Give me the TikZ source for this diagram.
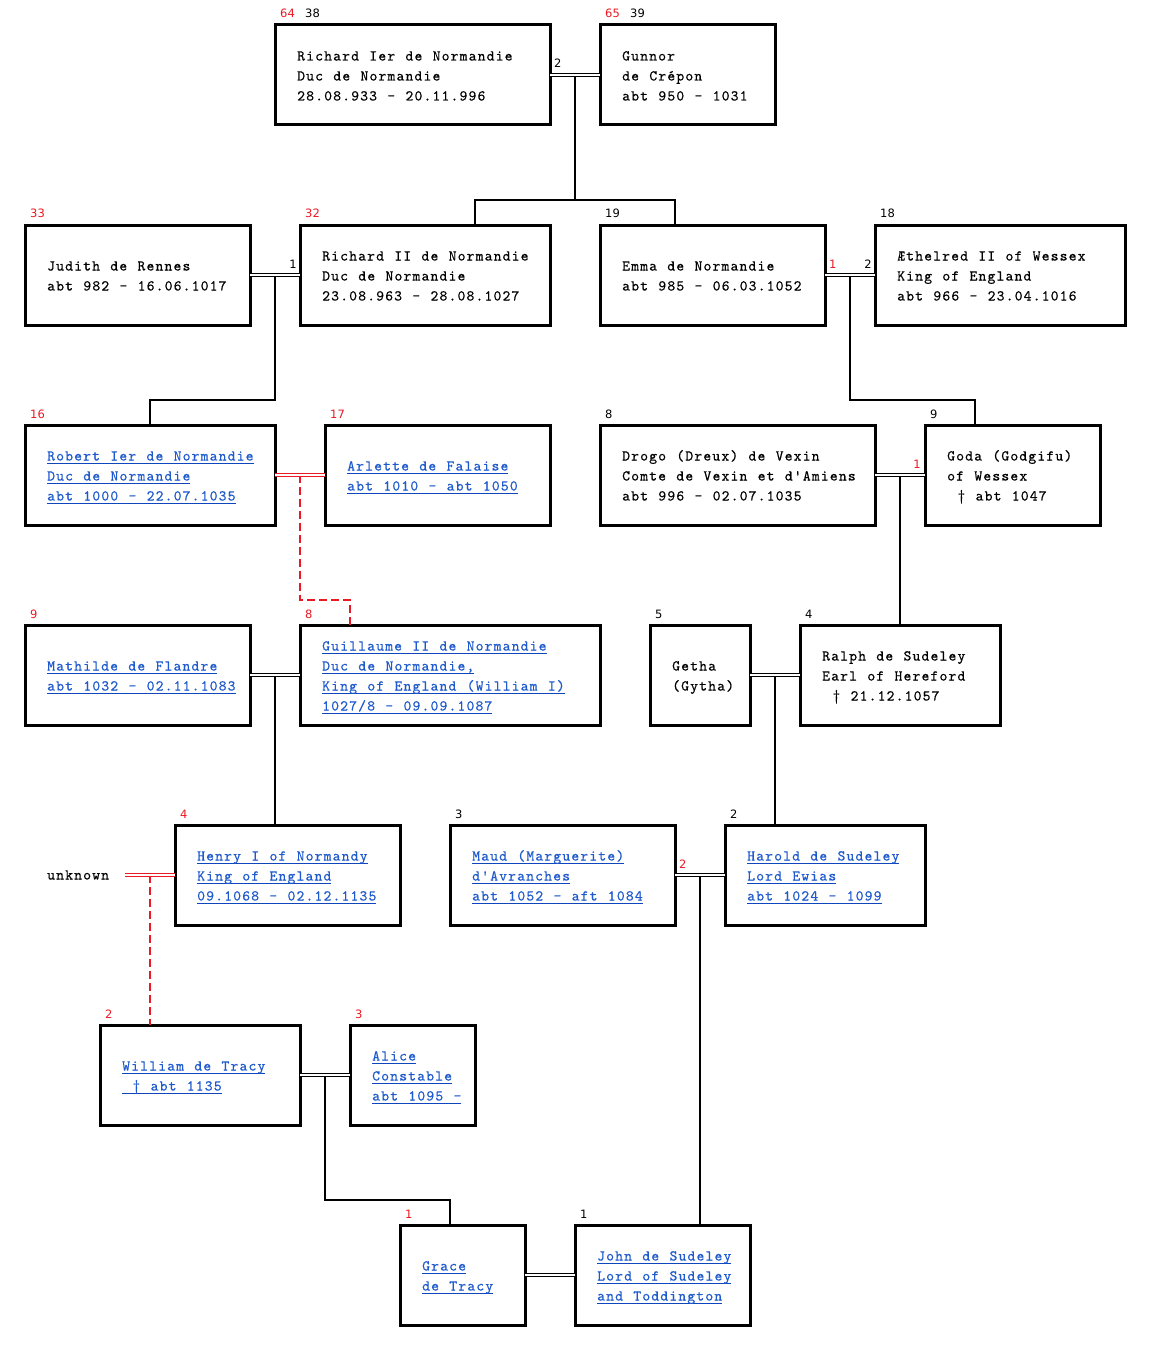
\documentclass[tikz,border=0pt]{standalone}
\usepackage{fontspec}
\setmonofont{lmmono10-regular.otf}[LetterSpace=7.5, WordSpace={1.143,0,0}, FakeBold=0.5]
\newfontfamily\numf{DejaVu Sans}
\usetikzlibrary{calc}
\definecolor{lred}{RGB}{235,25,35}
\definecolor{lblue}{RGB}{30,90,205}
\definecolor{lline}{RGB}{15,70,190}
\newcommand\stl{\vrule width 0pt height 16pt depth 4pt}
\newcommand\lk[1]{\setbox0=\hbox{#1}\rlap{\color{lline}\vrule width\wd0 height -2.5pt depth 3.5pt}\box0}
\newcommand\tline[1]{\stl#1}
\newcommand\tlink[1]{\stl\lk{#1}}
\tikzset{
  box/.style={draw, line width=3pt, rectangle, minimum height=100pt, inner sep=0pt, outer sep=0pt},
  txt/.style={anchor=west, align=left, inner sep=0pt, font=\ttfamily\fontsize{15}{20}\selectfont},
  lnk/.style={txt, text=lblue},
  num/.style={anchor=base west, inner sep=0pt, font=\numf\fontsize{11.5}{13}\selectfont},
  numr/.style={num, text=lred},
  marr/.style={line width=1pt, double=white, double distance=2pt},
  rmarr/.style={marr, draw=lred},
  desc/.style={line width=2pt},
  rdesc/.style={line width=2pt, draw=lred, dash pattern=on 8pt off 4pt}
}
\begin{document}
\begin{tikzpicture}[x=1pt, y=-1pt]
\fill[white] (0,0) rectangle (1151,1351);
\useasboundingbox (0,0) rectangle (1151,1351);
% boxes
\node[box, minimum width=275pt] (p1) at (412.5,75) {};
\node[box, minimum width=175pt] (p2) at (687.5,75) {};
\node[box, minimum width=225pt] (p3) at (137.5,275) {};
\node[box, minimum width=250pt] (p4) at (425,275) {};
\node[box, minimum width=225pt] (p5) at (712.5,275) {};
\node[box, minimum width=250pt] (p6) at (1000,275) {};
\node[box, minimum width=250pt] (p7) at (150,475) {};
\node[box, minimum width=225pt] (p8) at (437.5,475) {};
\node[box, minimum width=275pt] (p9) at (737.5,475) {};
\node[box, minimum width=175pt] (p10) at (1012.5,475) {};
\node[box, minimum width=225pt] (p11) at (137.5,675) {};
\node[box, minimum width=300pt] (p12) at (450,675) {};
\node[box, minimum width=100pt] (p13) at (700,675) {};
\node[box, minimum width=200pt] (p14) at (900,675) {};
\node[box, minimum width=225pt] (p15) at (287.5,875) {};
\node[box, minimum width=225pt] (p16) at (562.5,875) {};
\node[box, minimum width=200pt] (p17) at (825,875) {};
\node[box, minimum width=200pt] (p18) at (200,1075) {};
\node[box, minimum width=125pt] (p19) at (412.5,1075) {};
\node[box, minimum width=125pt] (p20) at (462.5,1275) {};
\node[box, minimum width=175pt] (p21) at (662.5,1275) {};
% texts
\node[txt] (t1) at ($(p1.west)+(22,-0.5)$) {\tline{Richard Ier de Normandie}\\\tline{Duc de Normandie}\\\tline{28.08.933 - 20.11.996}};
\node[txt] (t2) at ($(p2.west)+(22,-0.5)$) {\tline{Gunnor}\\\tline{de Crépon}\\\tline{abt 950 - 1031}};
\node[txt] (t3) at ($(p3.west)+(22,-0.5)$) {\tline{Judith de Rennes}\\\tline{abt 982 - 16.06.1017}};
\node[txt] (t4) at ($(p4.west)+(22,-0.5)$) {\tline{Richard II de Normandie}\\\tline{Duc de Normandie}\\\tline{23.08.963 - 28.08.1027}};
\node[txt] (t5) at ($(p5.west)+(22,-0.5)$) {\tline{Emma de Normandie}\\\tline{abt 985 - 06.03.1052}};
\node[txt] (t6) at ($(p6.west)+(22,-0.5)$) {\tline{Æthelred II of Wessex}\\\tline{King of England}\\\tline{abt 966 - 23.04.1016}};
\node[lnk] (t7) at ($(p7.west)+(22,-0.5)$) {\tlink{Robert Ier de Normandie}\\\tlink{Duc de Normandie}\\\tlink{abt 1000 - 22.07.1035}};
\node[lnk] (t8) at ($(p8.west)+(22,-0.5)$) {\tlink{Arlette de Falaise}\\\tlink{abt 1010 - abt 1050}};
\node[txt] (t9) at ($(p9.west)+(22,-0.5)$) {\tline{Drogo (Dreux) de Vexin}\\\tline{Comte de Vexin et d'Amiens}\\\tline{abt 996 - 02.07.1035}};
\node[txt] (t10) at ($(p10.west)+(22,-0.5)$) {\tline{Goda (Godgifu)}\\\tline{of Wessex}\\\tline{\ † abt 1047}};
\node[lnk] (t11) at ($(p11.west)+(22,-0.5)$) {\tlink{Mathilde de Flandre}\\\tlink{abt 1032 - 02.11.1083}};
\node[lnk] (t12) at ($(p12.west)+(22,-0.5)$) {\tlink{Guillaume II de Normandie}\\\tlink{Duc de Normandie,}\\\tlink{King of England (William I)}\\\tlink{1027/8 - 09.09.1087}};
\node[txt] (t13) at ($(p13.west)+(22,-0.5)$) {\tline{Getha}\\\tline{(Gytha)}};
\node[txt] (t14) at ($(p14.west)+(22,-0.5)$) {\tline{Ralph de Sudeley}\\\tline{Earl of Hereford}\\\tline{\ † 21.12.1057}};
\node[lnk] (t15) at ($(p15.west)+(22,-0.5)$) {\tlink{Henry I of Normandy}\\\tlink{King of England}\\\tlink{09.1068 - 02.12.1135}};
\node[lnk] (t16) at ($(p16.west)+(22,-0.5)$) {\tlink{Maud (Marguerite)}\\\tlink{d'Avranches}\\\tlink{abt 1052 - aft 1084}};
\node[lnk] (t17) at ($(p17.west)+(22,-0.5)$) {\tlink{Harold de Sudeley}\\\tlink{Lord Ewias}\\\tlink{abt 1024 - 1099}};
\node[lnk] (t18) at ($(p18.west)+(22,-0.5)$) {\tlink{William de Tracy}\\\tlink{\ † abt 1135}};
\node[lnk] (t19) at ($(p19.west)+(22,-0.5)$) {\tlink{Alice}\\\tlink{Constable}\\\tlink{abt 1095 -}};
\node[lnk] (t20) at ($(p20.west)+(22,-0.5)$) {\tlink{Grace}\\\tlink{de Tracy}};
\node[lnk] (t21) at ($(p21.west)+(22,-0.5)$) {\tlink{John de Sudeley}\\\tlink{Lord of Sudeley}\\\tlink{and Toddington}};
\node[txt] (unk) at (47,873.5) {\tline{unknown}};
% numbers above boxes
\node[numr] (n1a) at ($(p1.north west)+(5,-7)$) {64};
\node[num]  (n1b) at ($(p1.north west)+(30,-7)$) {38};
\node[numr] (n2a) at ($(p2.north west)+(5,-7)$) {65};
\node[num]  (n2b) at ($(p2.north west)+(30,-7)$) {39};
\node[numr] (n3) at ($(p3.north west)+(5,-7)$) {33};
\node[numr] (n4) at ($(p4.north west)+(5,-7)$) {32};
\node[num]  (n5) at ($(p5.north west)+(5,-7)$) {19};
\node[num]  (n6) at ($(p6.north west)+(5,-7)$) {18};
\node[numr] (n7) at ($(p7.north west)+(5,-7)$) {16};
\node[numr] (n8) at ($(p8.north west)+(5,-7)$) {17};
\node[num]  (n9) at ($(p9.north west)+(5,-7)$) {8};
\node[num]  (n10) at ($(p10.north west)+(5,-7)$) {9};
\node[numr] (n11) at ($(p11.north west)+(5,-7)$) {9};
\node[numr] (n12) at ($(p12.north west)+(5,-7)$) {8};
\node[num]  (n13) at ($(p13.north west)+(5,-7)$) {5};
\node[num]  (n14) at ($(p14.north west)+(5,-7)$) {4};
\node[numr] (n15) at ($(p15.north west)+(5,-7)$) {4};
\node[num]  (n16) at ($(p16.north west)+(5,-7)$) {3};
\node[num]  (n17) at ($(p17.north west)+(5,-7)$) {2};
\node[numr] (n18) at ($(p18.north west)+(5,-7)$) {2};
\node[numr] (n19) at ($(p19.north west)+(5,-7)$) {3};
\node[numr] (n20) at ($(p20.north west)+(5,-7)$) {1};
\node[num]  (n21) at ($(p21.north west)+(5,-7)$) {1};
% marriage numbers
\node[num] (c1) at ($(p1.east)+(4,-7)$) {2};
\node[num, anchor=base east] (c2) at ($(p4.west)+(-3,-7)$) {1};
\node[numr] (c3a) at ($(p5.east)+(4,-7)$) {1};
\node[num, anchor=base east] (c3b) at ($(p6.west)+(-3,-7)$) {2};
\node[numr, anchor=base east] (c5) at ($(p10.west)+(-4,-7)$) {1};
\node[numr] (c9) at ($(p16.east)+(4,-7)$) {2};
% marriage midpoints
\coordinate (m1) at ($(p1.east)!0.5!(p2.west)$);
\coordinate (m2) at ($(p3.east)!0.5!(p4.west)$);
\coordinate (m3) at ($(p5.east)!0.5!(p6.west)$);
\coordinate (m4) at ($(p7.east)!0.5!(p8.west)$);
\coordinate (m5) at ($(p9.east)!0.5!(p10.west)$);
\coordinate (m6) at ($(p11.east)!0.5!(p12.west)$);
\coordinate (m7) at ($(p13.east)!0.5!(p14.west)$);
\coordinate (u1) at (125,875);
\coordinate (m8) at ($(u1)!0.5!(p15.west)$);
\coordinate (m9) at ($(p16.east)!0.5!(p17.west)$);
\coordinate (m10) at ($(p18.east)!0.5!(p19.west)$);
% descent lines
\coordinate (b1) at (575,200);
\draw[desc] (m1) -- (b1) -| (p4.north -| 475,0);
\draw[desc] (b1) -| (p5.north -| 675,0);
\draw[desc] (m2) -- (275,400) -| (p7.north);
\draw[desc] (m3) -- (850,400) -| (p10.north -| 975,0);
\draw[rdesc] (m4) -- (300,600) -| (p12.north -| 350,0);
\draw[desc] (m5) -- (p14.north -| m5);
\draw[desc] (m6) -- (p15.north -| m6);
\draw[desc] (m7) -- (p17.north -| m7);
\draw[rdesc] (m8) -- (p18.north -| m8);
\draw[desc] (m9) -- (p21.north -| m9);
\draw[desc] (m10) -- (325,1200) -| (p20.north -| 450,0);
% marriage lines
\draw[marr] (p1.east) -- (p2.west);
\draw[marr] (p3.east) -- (p4.west);
\draw[marr] (p5.east) -- (p6.west);
\draw[rmarr] (p7.east) -- (p8.west);
\draw[marr] (p9.east) -- (p10.west);
\draw[marr] (p11.east) -- (p12.west);
\draw[marr] (p13.east) -- (p14.west);
\draw[rmarr] (u1) -- (p15.west);
\draw[marr] (p16.east) -- (p17.west);
\draw[marr] (p18.east) -- (p19.west);
\draw[marr] (p20.east) -- (p21.west);
\end{tikzpicture}
\end{document}
